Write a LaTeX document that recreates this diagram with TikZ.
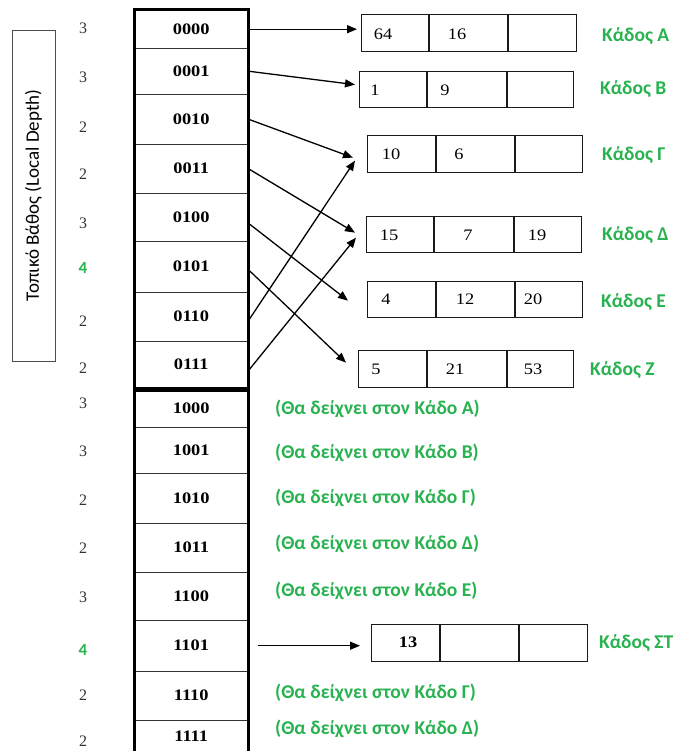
\documentclass[tikz,border=0pt]{standalone}
\usepackage{fontspec}
\setmainfont{Liberation Serif}
\newfontfamily\widefont[FakeStretch=1.15]{Liberation Serif}
\newfontfamily\calfont{Carlito}
\usetikzlibrary{arrows.meta}
\definecolor{grn}{RGB}{40,178,80}
\begin{document}
\begin{tikzpicture}[x=1pt,y=-1pt,
  cell/.style={minimum width=114pt, inner sep=0pt, anchor=north west, font=\widefont\fontsize{16}{16}\selectfont\bfseries},
  div/.style={draw=black!80, line width=1.3pt},
  frame/.style={draw=black, line width=3pt},
  bucket/.style={draw=black!90, line width=1.3pt, minimum width=215pt, minimum height=37pt, inner sep=0pt, anchor=north west},
  val/.style={font=\widefont\fontsize{16}{16}\selectfont, inner sep=0pt},
  depth/.style={font=\fontsize{16}{16}\selectfont, text=black!80, inner sep=0pt},
  gdepth/.style={font=\calfont\fontsize{17}{17}\selectfont\bfseries, text=grn, inner sep=0pt},
  blabel/.style={font=\calfont\fontsize{19.5}{19.5}\selectfont\bfseries, text=grn, anchor=west, inner sep=0pt},
  note/.style={font=\calfont\fontsize{19.5}{19.5}\selectfont\bfseries, text=grn, anchor=west, inner sep=0pt},
  arr/.style={draw=black, line width=1.3pt, -{Triangle[length=10pt,width=8pt]}}
]
\fill[white] (0,0) rectangle (673,751);
\useasboundingbox (0,0) rectangle (673,751);

% vertical label
\node[draw=black!70, line width=0.9pt, rotate=90, minimum width=331pt, minimum height=43pt, inner sep=0pt,
  font=\calfont\fontsize{19}{19}\selectfont] (lbl) at (33.5,195.5) {Τοπικό Βάθος (Local Depth)};

% directory cells (upper)
\node[cell, minimum height=38pt] (c0000) at (134,10) {0000};
\node[cell, minimum height=46pt] (c0001) at (134,48) {0001};
\node[cell, minimum height=50pt] (c0010) at (134,94) {0010};
\node[cell, minimum height=49pt] (c0011) at (134,144) {0011};
\node[cell, minimum height=48pt] (c0100) at (134,193) {0100};
\node[cell, minimum height=51pt] (c0101) at (134,241) {0101};
\node[cell, minimum height=49pt] (c0110) at (134,292) {0110};
\node[cell, minimum height=47pt] (c0111) at (134,341) {0111};
% lower
\node[cell, minimum height=37pt] (c1000) at (134,390) {1000};
\node[cell, minimum height=46pt] (c1001) at (134,427) {1001};
\node[cell, minimum height=50pt] (c1010) at (134,473) {1010};
\node[cell, minimum height=49pt] (c1011) at (134,523) {1011};
\node[cell, minimum height=48pt] (c1100) at (134,572) {1100};
\node[cell, minimum height=51pt] (c1101) at (134,620) {1101};
\node[cell, minimum height=49pt] (c1110) at (134,671) {1110};
\node[cell, minimum height=33pt] (c1111) at (134,720) {1111};

\foreach \c in {c0000,c0001,c0010,c0011,c0100,c0101,c0110,c1000,c1001,c1010,c1011,c1100,c1101,c1110}
  \draw[div] (\c.south west) -- (\c.south east);

\draw[frame] (c0000.north west) rectangle (c0111.south east);
\draw[frame] (c1111.south west) -- (c1000.north west) -- (c1000.north east) -- (c1111.south east);

% depth numbers
\node[depth] (d1) at (83,28) {3};
\node[depth] (d2) at (83,77) {3};
\node[depth] (d3) at (83,127) {2};
\node[depth] (d4) at (83,174) {2};
\node[depth] (d5) at (83,223) {3};
\node[gdepth] (d6) at (83,268) {4};
\node[depth] (d7) at (83,321) {2};
\node[depth] (d8) at (83,368) {2};
\node[depth] (d9) at (83,403) {3};
\node[depth] (d10) at (83,451) {3};
\node[depth] (d11) at (83,500) {2};
\node[depth] (d12) at (83,548) {2};
\node[depth] (d13) at (83,597) {3};
\node[gdepth] (d14) at (83,650) {4};
\node[depth] (d15) at (83,695) {2};
\node[depth] (d16) at (83,741) {2};

% buckets
\node[bucket] (bA) at (361,14) {};
\node[bucket, minimum width=214pt, minimum height=36pt] (bB) at (359,71) {};
\node[bucket] (bG) at (367,135) {};
\node[bucket, minimum height=36pt] (bD) at (366,216) {};
\node[bucket, minimum height=36pt] (bE) at (367,281) {};
\node[bucket] (bZ) at (358,350) {};
\node[bucket, minimum width=216pt] (bST) at (371,624) {};

\foreach \b/\p/\q in {bA/68/147, bB/68/148, bG/69/148, bD/68/148, bE/69/148, bZ/69/149, bST/69/148}{
  \draw[div, draw=black!90] ([xshift=\p pt]\b.north west) -- ([xshift=\p pt]\b.south west);
  \draw[div, draw=black!90] ([xshift=\q pt]\b.north west) -- ([xshift=\q pt]\b.south west);
}

% values
\node[val] (vA1) at (383,34) {64};
\node[val] (vA2) at (457,34) {16};
\node[val] (vB1) at (375,90) {1};
\node[val] (vB2) at (445,90) {9};
\node[val] (vG1) at (391,154) {10};
\node[val] (vG2) at (459,154) {6};
\node[val] (vD1) at (389,235) {15};
\node[val] (vD2) at (468,235) {7};
\node[val] (vD3) at (537,235) {19};
\node[val] (vE1) at (386,299) {4};
\node[val] (vE2) at (465,299) {12};
\node[val] (vE3) at (533,299) {20};
\node[val] (vZ1) at (376,369) {5};
\node[val] (vZ2) at (455,369) {21};
\node[val] (vZ3) at (533,369) {53};
\node[val, font=\widefont\fontsize{16}{16}\selectfont\bfseries] (vST1) at (408,642) {13};

% bucket labels
\node[blabel] (lA) at (602,36) {Κάδος Α};
\node[blabel] (lB) at (600,89) {Κάδος Β};
\node[blabel] (lG) at (602,155) {Κάδος Γ};
\node[blabel] (lD) at (602,235) {Κάδος Δ};
\node[blabel] (lE) at (601,302) {Κάδος Ε};
\node[blabel] (lZ) at (590,370) {Κάδος Ζ};
\node[blabel] (lST) at (599,643) {Κάδος ΣΤ};

% notes
\node[note] (n1) at (275,409) {(Θα δείχνει στον Κάδο Α)};
\node[note] (n2) at (275,453) {(Θα δείχνει στον Κάδο Β)};
\node[note] (n3) at (275,498) {(Θα δείχνει στον Κάδο Γ)};
\node[note] (n4) at (275,544) {(Θα δείχνει στον Κάδο Δ)};
\node[note] (n5) at (275,591) {(Θα δείχνει στον Κάδο Ε)};
\node[note] (n6) at (275,693) {(Θα δείχνει στον Κάδο Γ)};
\node[note] (n7) at (275,729) {(Θα δείχνει στον Κάδο Δ)};

% arrows
\draw[arr, shorten >=4pt] (c0000.east) -- (c0000.east -| bA.west);
\draw[arr] (c0001.east) -- ([xshift=-4pt,yshift=5pt]bB.west);
\draw[arr] (c0010.east) -- ([xshift=-14pt,yshift=-3.5pt]bG.west);
\draw[arr] (c0011.east) -- ([xshift=-11pt,yshift=2pt]bD.west);
\draw[arr] ([yshift=-6pt]c0100.east) -- ([xshift=-19pt,yshift=-1pt]bE.west);
\draw[arr] ([yshift=-3pt]c0101.east) -- ([xshift=-12pt,yshift=6.5pt]bZ.west);
\draw[arr] ([yshift=-4pt]c0110.east) -- ([xshift=-12pt,yshift=-6.5pt]bG.west);
\draw[arr] ([yshift=-6pt]c0111.east) -- ([xshift=-10pt,yshift=-3pt]bD.west);
\draw[arr, shorten <=10pt, shorten >=11pt] (c1101.east) -- (c1101.east -| bST.west);
\end{tikzpicture}
\end{document}
